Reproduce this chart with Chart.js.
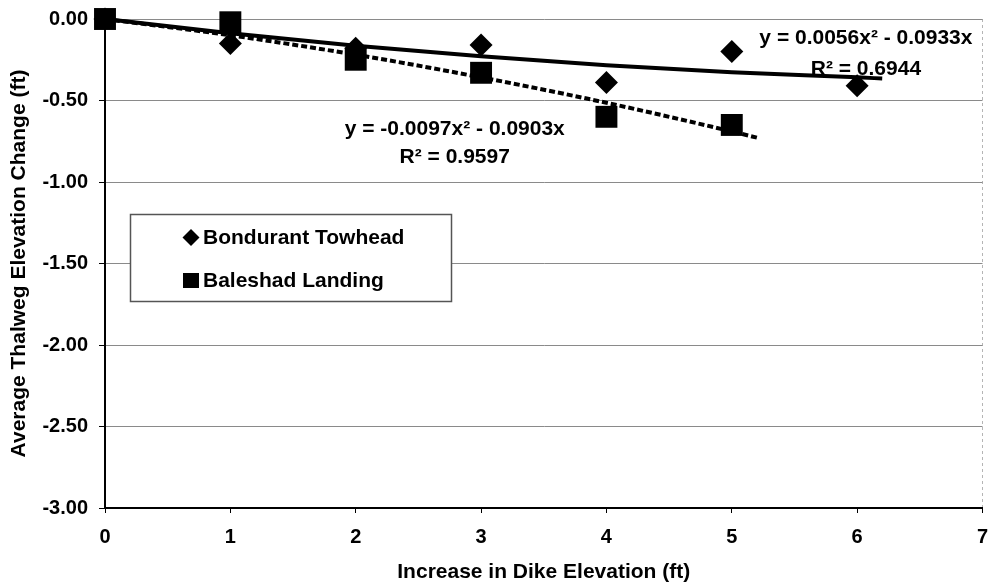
<!DOCTYPE html>
<html lang="en">
<head>
    <meta charset="UTF-8">
    <title>Thalweg Elevation Change vs Dike Elevation</title>
    <script src="https://cdn.jsdelivr.net/npm/chart.js"></script>
    <style>
        html, body {
            margin: 0;
            padding: 0;
            background: #fff;
            overflow: hidden;
        }
        .chart-box {
            width: 992px;
            height: 586px;
            overflow: hidden;
        }
        canvas {
            display: block;
        }
    </style>
</head>
<body>
    <!-- canvas is a few px wider than the box: Chart.js keeps a fixed gap
         right of the last tick label, this hides that gap -->
    <div class="chart-box">
        <canvas id="dikeChart" width="998" height="586"></canvas>
    </div>

    <script>
        // values
        const bondurantX = [0, 1, 2, 3, 4, 5, 6];
        const bondurantY = [0, -0.15, -0.18, -0.16, -0.39, -0.20, -0.41];
        const baleshadX = [0, 1, 2, 3, 4, 5];
        const baleshadY = [0, -0.02, -0.25, -0.33, -0.60, -0.65];

        // trendlines as drawn in the picture
        const bondurantTrendX = [0, 1, 2, 3, 4, 5, 6, 6.2];
        const bondurantTrendY = [0, -0.088, -0.164, -0.229, -0.284, -0.327, -0.358, -0.365];
        const baleshadTrendX = [0, 1, 2, 3, 4, 5, 5.2];
        const baleshadTrendY = [0, -0.100, -0.219, -0.358, -0.514, -0.690, -0.728];

        const seriesNames = ['Bondurant Towhead', 'Baleshad Landing'];
        const equationLines = [
            ['y = 0.0056x² - 0.0933x', 'R² = 0.6944'],
            ['y = -0.0097x² - 0.0903x', 'R² = 0.9597']
        ];

        const FONT = "'Liberation Sans', Arial, sans-serif";
        Chart.defaults.font.family = FONT;
        Chart.defaults.font.size = 20;
        Chart.defaults.font.weight = 'bold';
        Chart.defaults.color = '#000';

        const toPoints = (xs, ys) => xs.map((x, i) => ({ x: x, y: ys[i] }));

        // drop the extra room Chart.js keeps for the edge tick labels
        const noEdgeRoom = s => {
            s.paddingLeft = s.paddingRight = s.paddingTop = s.paddingBottom = 0;
            if (s._margins) {
                s._margins.left = s._margins.right = s._margins.top = s._margins.bottom = 0;
            }
        };

        // legend box and equation text drawn inside the plot
        const notesPlugin = {
            id: 'notes',
            afterDatasetsDraw(chart) {
                const ctx = chart.ctx;
                const xs = chart.scales.x, ys = chart.scales.y;
                ctx.save();

                // legend
                ctx.fillStyle = '#fff';
                ctx.fillRect(130, 214, 322, 88);
                ctx.strokeStyle = '#555';
                ctx.lineWidth = 1.5;
                ctx.strokeRect(130.5, 214.5, 321, 87);

                ctx.fillStyle = '#000';
                ctx.beginPath();
                ctx.moveTo(191, 229); ctx.lineTo(199.5, 237.5);
                ctx.lineTo(191, 246); ctx.lineTo(182.5, 237.5);
                ctx.closePath();
                ctx.fill();
                ctx.fillRect(183, 273, 16, 15);

                ctx.font = 'bold 21px ' + FONT;
                ctx.textBaseline = 'middle';
                ctx.textAlign = 'left';
                ctx.fillText(seriesNames[0], 203, 238);
                ctx.fillText(seriesNames[1], 203, 281);

                // trendline equations
                ctx.textAlign = 'center';
                const spots = [[6.07, -0.12, -0.31], [2.79, -0.675, -0.85]];
                equationLines.forEach((lines, i) => {
                    const cx = xs.getPixelForValue(spots[i][0]);
                    ctx.fillText(lines[0], cx, ys.getPixelForValue(spots[i][1]));
                    ctx.fillText(lines[1], cx, ys.getPixelForValue(spots[i][2]));
                });
                ctx.restore();
            }
        };

        const ctx = document.getElementById('dikeChart').getContext('2d');

        const dikeChart = new Chart(ctx, {
            type: 'scatter',
            data: {
                datasets: [
                    {
                        label: seriesNames[0],
                        data: toPoints(bondurantX, bondurantY),
                        pointStyle: 'rectRot',
                        pointRadius: 11.5,
                        backgroundColor: '#000',
                        borderWidth: 0,
                        clip: false,
                        order: 1
                    },
                    {
                        label: seriesNames[1],
                        data: toPoints(baleshadX, baleshadY),
                        pointStyle: 'rect',
                        pointRadius: 15.5,
                        backgroundColor: '#000',
                        borderWidth: 0,
                        clip: false,
                        order: 1
                    },
                    {
                        label: 'Bondurant trend',
                        data: toPoints(bondurantTrendX, bondurantTrendY),
                        showLine: true,
                        pointRadius: 0,
                        borderColor: '#000',
                        borderWidth: 4,
                        cubicInterpolationMode: 'monotone',
                        clip: false,
                        order: 0
                    },
                    {
                        label: 'Baleshad trend',
                        data: toPoints(baleshadTrendX, baleshadTrendY),
                        showLine: true,
                        pointRadius: 0,
                        borderColor: '#000',
                        borderWidth: 4,
                        borderDash: [6, 3],
                        cubicInterpolationMode: 'monotone',
                        clip: false,
                        order: 0
                    }
                ]
            },
            options: {
                responsive: false,
                animation: false,
                layout: { padding: { top: 19, right: 10, left: 0, bottom: 0 } },
                plugins: {
                    legend: { display: false },
                    tooltip: { enabled: false }
                },
                scales: {
                    x: {
                        type: 'linear',
                        min: 0,
                        max: 7,
                        ticks: { stepSize: 1, padding: 12 },
                        grid: {
                            color: c => (c.tick && c.tick.value === 7) ? '#b5b5b5' : 'rgba(0,0,0,0)',
                            tickColor: '#000',
                            tickLength: 5
                        },
                        border: { color: '#000', width: 2, dash: [3, 3] },
                        title: {
                            display: true,
                            text: 'Increase in Dike Elevation (ft)',
                            font: { size: 21, weight: 'bold' },
                            padding: { top: 0, bottom: 1 }
                        },
                        afterFit: s => { s.height = 78; noEdgeRoom(s); }
                    },
                    y: {
                        min: -3,
                        max: 0,
                        ticks: {
                            stepSize: 0.5,
                            padding: 11,
                            callback: v => v.toFixed(2)
                        },
                        grid: {
                            color: '#8a8a8a',
                            tickColor: '#000',
                            tickLength: 6
                        },
                        border: { color: '#000', width: 2 },
                        title: {
                            display: true,
                            text: 'Average Thalweg Elevation Change (ft)',
                            font: { size: 21, weight: 'bold' },
                            padding: { top: 7, bottom: 0 }
                        },
                        afterFit: s => { s.width = 105; noEdgeRoom(s); }
                    }
                }
            },
            plugins: [notesPlugin]
        });
    </script>
</body>
</html>
